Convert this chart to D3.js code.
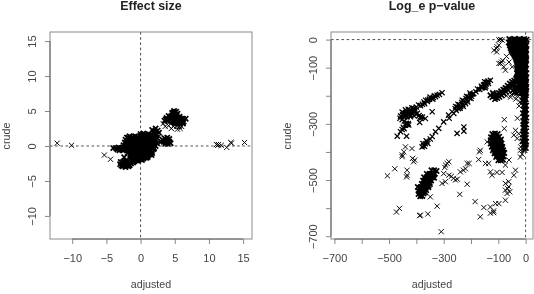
<!DOCTYPE html>
<html>
<head>
<meta charset="utf-8">
<script src="https://cdn.jsdelivr.net/npm/d3@7"></script>
<style>
html,body{margin:0;padding:0;background:#fff;}
svg{display:block;filter:blur(0.35px);}
text{font-family:"Liberation Sans",Arial,sans-serif;}
</style>
</head>
<body>
<svg id="chart" width="534" height="294"></svg>
<script>
// values, [adjusted, crude]
var effectLone = [[-12.2,0.4],[-10.1,0.1],[-5.3,-1.3],[-4.4,-1.9],[11.1,0.2],[11.3,0.1],[11.4,0.2],[11.8,0.1],[12.6,-0.2],[13.2,0.5],[13.3,0.4],[15.2,0.5]];
var effectBody = [
[1.7,2.3],[2.2,2.5],[2.5,2.2],[1.9,2.0],[2.7,1.9],[0,1.7],[0.4,1.8],[0.8,1.6],[1.2,1.7],[1.6,1.6],[2.0,1.7],[2.4,1.6],
[-2.0,1.2],[-1.6,1.4],[-1.2,1.3],[-0.8,1.4],[-0.4,1.3],[0,1.4],[0.4,1.3],[0.8,1.2],[1.2,1.3],[1.6,1.2],[2.0,1.3],[2.4,1.2],
[-2.2,0.9],[-1.8,1.0],[-1.4,0.9],[-1.0,1.0],[-0.6,0.9],[-0.2,1.0],[0.2,0.9],[0.6,1.0],[1.0,0.9],[1.4,0.9],[1.8,0.9],[2.2,0.8],
[-2.3,0.5],[-1.9,0.6],[-1.5,0.5],[-1.1,0.6],[-0.7,0.5],[-0.3,0.6],[0.1,0.5],[0.5,0.6],[0.9,0.5],[1.3,0.5],[1.7,0.5],[2.1,0.5],[2.4,0.4],
[-2.5,0.1],[-2.1,0.2],[-1.7,0.1],[-1.3,0.2],[-0.9,0.1],[-0.5,0.2],[-0.1,0.1],[0.3,0.2],[0.7,0.1],[1.1,0.1],[1.5,0.2],[1.9,0.1],[2.2,0],
[-4.0,-0.3],[-3.6,-0.3],[-3.2,-0.2],[-2.8,-0.3],[-2.4,-0.2],[-2.0,-0.3],[-1.6,-0.2],[-1.2,-0.3],[-0.8,-0.2],[-0.4,-0.3],[0,-0.2],[0.4,-0.3],[0.8,-0.2],[1.2,-0.3],[1.6,-0.2],[2.0,-0.3],
[-3.1,-0.6],[-2.6,-0.6],[-1.9,-0.6],[-1.5,-0.7],[-1.1,-0.6],[-0.7,-0.7],[-0.3,-0.6],[0.1,-0.7],[0.5,-0.6],[0.9,-0.7],[1.3,-0.6],[1.7,-0.7],
[-1.9,-1.0],[-1.5,-1.1],[-1.1,-1.0],[-0.7,-1.1],[-0.3,-1.0],[0.1,-1.1],[0.5,-1.0],[0.9,-1.1],[1.3,-1.0],[1.7,-1.0],
[-2.4,-1.6],[-1.3,-1.4],[-0.9,-1.5],[-0.5,-1.4],[-0.1,-1.5],[0.3,-1.4],[0.7,-1.5],[1.1,-1.4],[1.6,-1.3],
[-1.2,-1.8],[-0.8,-1.9],[-0.4,-1.8],[0,-1.9],[0.4,-1.8],[0.8,-1.7],
[-2.9,-2.3],[-2.5,-2.2],[-2.1,-2.1],[-1.7,-2.2],[-1.3,-2.1],[-0.9,-2.2],[-0.5,-2.1],
[-3.0,-2.6],[-2.6,-2.6],[-2.2,-2.5],[-1.8,-2.6],[-1.4,-2.5],
[-2.6,-2.9],[-2.2,-3.0],[-1.8,-2.9]
];
var effectBodyDense = [
[-1.8,1.2],[-1.4,1.15],[-1.0,1.15],[-0.6,1.15],[-0.2,1.15],[0.2,1.55],[0.6,1.55],[1.0,1.5],[1.4,1.45],[1.8,1.45],[2.2,1.45],[2.1,2.15],
[-1.6,0.75],[-1.2,0.8],[-0.8,0.75],[-0.4,0.8],[0,0.75],[0.4,0.8],[0.8,0.75],[1.2,0.7],[1.6,0.7],[2.0,0.7],
[-2.1,0.35],[-1.7,0.35],[-1.3,0.4],[-0.9,0.35],[-0.5,0.4],[-0.1,0.35],[0.3,0.4],[0.7,0.35],[1.1,0.3],[1.5,0.35],[1.9,0.3],
[-2.3,-0.1],[-1.9,-0.05],[-1.5,-0.05],[-1.1,-0.05],[-0.7,-0.05],[-0.3,-0.05],[0.1,-0.05],[0.5,-0.05],[0.9,-0.05],[1.3,-0.05],[1.7,-0.05],
[-3.4,-0.5],[-2.9,-0.45],[-2.3,-0.5],[-1.7,-0.45],[-1.3,-0.45],[-0.9,-0.45],[-0.5,-0.45],[-0.1,-0.45],[0.3,-0.45],[0.7,-0.45],[1.1,-0.45],[1.5,-0.45],[1.9,-0.45],
[-1.7,-0.85],[-1.3,-0.85],[-0.9,-0.85],[-0.5,-0.85],[-0.1,-0.85],[0.3,-0.85],[0.7,-0.85],[1.1,-0.85],[1.5,-0.85],
[-1.5,-1.25],[-1.1,-1.25],[-0.7,-1.25],[-0.3,-1.25],[0.1,-1.25],[0.5,-1.25],[0.9,-1.25],[1.3,-1.2],
[-1.0,-1.65],[-0.6,-1.65],[-0.2,-1.65],[0.2,-1.65],[0.6,-1.6],[1.0,-1.6],
[-1.5,-1.95],[-1.1,-2.0],[-0.7,-2.0],[-0.3,-2.0],[0.2,-2.0],
[-2.7,-2.4],[-2.3,-2.4],[-1.9,-2.4],[-1.5,-2.35],[-1.1,-2.35],
[-2.8,-2.8],[-2.4,-2.8],[-2.0,-2.8],[-1.6,-2.75]
];
var effectRightLobe = [[3.2,0.9],[3.5,1.1],[3.9,1.2],[4.2,1.0],[3.0,0.6],[3.4,0.6],[3.8,0.7],[4.2,0.6],[4.4,0.4],[3.6,0.3],[4.0,0.3],[3.7,0.9],[4.0,0.9],[3.3,0.8]];
var effectUpper = [
[4.9,5.0],[5.2,4.9],[4.6,4.7],[5.0,4.6],[5.4,4.6],[4.1,4.3],[4.5,4.3],[4.9,4.2],[5.3,4.3],[5.7,4.2],[3.8,4.0],[4.2,3.9],[4.6,4.0],[5.0,3.9],[5.4,3.9],[5.8,3.9],[6.2,3.9],[6.6,3.9],
[3.5,3.6],[3.9,3.6],[4.3,3.6],[4.7,3.5],[5.1,3.6],[5.5,3.5],[5.9,3.6],[6.3,3.5],[5.0,3.2],[5.4,3.2],[5.8,3.2],[6.2,3.2],
[4.8,4.8],[5.2,4.45],[4.7,4.45],[4.3,4.1],[4.8,4.05],[5.2,4.1],[5.6,4.05],[6.0,3.75],[5.6,3.75],[5.2,3.75],[4.8,3.75],[4.4,3.75],[4.0,3.8],[3.7,3.8],[5.3,3.4],[5.7,3.4],[4.9,3.4],[6.1,3.35]
];
var effectUpperEdge = [[3.3,3.2],[4.4,3.2],[3.6,2.8],[4.1,2.9],[4.8,2.8],[5.3,2.8],[5.7,2.8],[6.0,2.8],[4.5,2.5],[5.4,2.4],[5.8,2.5]];

var pvalTopBranch = [
[-306,-189],[-316,-195],[-324,-198],[-330,-203],[-338,-206],[-345,-209],[-352,-212],[-358,-215],[-366,-216],[-372,-222],[-378,-230],[-385,-235],[-392,-233],[-400,-240],[-410,-245],[-416,-243],[-424,-250],[-430,-248],[-436,-255],[-440,-250],[-445,-262],[-452,-258],[-458,-272],[-450,-268],[-442,-272],[-434,-266],[-426,-262],[-420,-270],[-414,-262],[-408,-272],[-402,-265],[-396,-262],[-460,-280],[-452,-285],[-444,-290],[-390,-270],[-384,-280],[-378,-276],[-342,-257],[-367,-281],[-388,-295],[-385,-275],
[-470,-344],[-436,-344],[-458,-328],[-445,-317],[-436,-301],[-430,-299],[-440,-305],[-448,-312],[-452,-320],
[-438,-262],[-446,-270],[-430,-256],[-422,-256],[-418,-256],[-412,-254],[-405,-252],[-340,-212],[-334,-200],[-350,-205],[-360,-220],[-370,-228],[-434,-302],[-428,-304],[-438,-298],[-422,-275],[-434,-275],[-406,-258]
];
var pvalDiagonal = [
[-379,-382],[-373,-378],[-367,-371],[-361,-364],[-349,-354],[-342,-345],[-330,-328],[-318,-316],[-300,-293],[-282,-269],[-269,-257],
[-263,-263],[-258,-246],[-254,-252],[-250,-240],[-246,-246],[-242,-232],[-238,-238],[-234,-224],[-230,-230],[-226,-218],[-222,-222],[-218,-210],[-214,-214],[-210,-204],[-206,-208],[-202,-198],[-198,-202],[-194,-194],[-190,-192],[-182,-186],[-176,-176],[-168,-178],[-162,-166],[-156,-170],[-150,-160],[-146,-166],[-142,-152],[-136,-156],[-129,-145],[-150,-150],
[-251,-334],[-226,-311],[-226,-326],[-280,-280],
[-256,-238],[-248,-230],[-240,-244],[-232,-216],[-228,-238],[-220,-228],[-216,-202],[-212,-222],[-204,-190],[-200,-210],[-376,-370],[-370,-380],[-364,-360],[-358,-370],[-144,-158],[-138,-148],[-160,-172],[-154,-162],[-148,-172]
];
var pvalBend = [
[-129,-198],[-120,-190],[-122,-205],[-114,-200],[-112,-212],[-106,-196],[-104,-208],[-98,-190],[-96,-204],[-90,-184],[-88,-198],[-82,-178],[-80,-192],[-74,-172],[-72,-186],[-66,-164],[-64,-180],[-58,-156],[-56,-172],[-50,-150],[-48,-166],[-42,-146],[-40,-160],[-34,-176],[-26,-184],
[-117,-196],[-109,-204],[-101,-198],[-93,-192],[-85,-188],[-77,-180],[-69,-174],[-61,-168],[-53,-160],[-45,-156],[-37,-150],[-43,-172],[-35,-166],[-29,-176],[-47,-182],[-40,-188],[-32,-190]
];
var pvalBendEdge = [[-70,-200],[-52,-196],[-36,-212],[-30,-200],[-20,-222],[-24,-236],[-55,-205]];
var pvalColumn = [
[-60,2],[-50,0],[-41,2],[-32,0],[-23,2],[-14,0],[-5,2],[4,0],
[-62,-10],[-54,-9],[-45,-10],[-36,-9],[-27,-10],[-18,-9],[-9,-10],[0,-9],
[-58,-20],[-49,-19],[-40,-20],[-31,-19],[-22,-20],[-13,-19],[-4,-20],[3,-19],
[-55,-30],[-46,-29],[-37,-30],[-28,-29],[-19,-30],[-10,-29],[-1,-30],
[-52,-40],[-43,-39],[-34,-40],[-25,-39],[-16,-40],[-7,-39],[2,-40],
[-44,-50],[-35,-49],[-26,-50],[-17,-49],[-8,-50],[1,-49],
[-38,-60],[-29,-59],[-20,-60],[-11,-59],[-2,-60],
[-34,-70],[-25,-69],[-16,-70],[-7,-69],[2,-70],
[-30,-80],[-21,-79],[-12,-80],[-3,-79],
[-33,-90],[-24,-89],[-15,-90],[-6,-89],[2,-90],
[-30,-100],[-21,-99],[-12,-100],[-3,-99],
[-28,-110],[-19,-109],[-10,-110],[-1,-109],
[-32,-120],[-23,-119],[-14,-120],[-5,-119],[3,-120],
[-30,-130],[-21,-129],[-12,-130],[-3,-129],
[-35,-140],[-26,-139],[-17,-140],[-8,-139],[1,-139],
[-30,-150],[-21,-149],[-12,-150],[-3,-149],
[-26,-160],[-17,-159],[-8,-160],[1,-159],
[-22,-170],[-13,-169],[-4,-170],[3,-169],
[-18,-180],[-9,-179],[0,-180],
[-14,-190],[-5,-189],[2,-190],
[-10,-205],[-2,-204],[-12,-218],[-3,-220],[-8,-235],[2,-235],
[-6,-250],[2,-250],[-10,-262],[-1,-264],[-5,-278],[3,-278],
[-9,-290],[-1,-291],[-6,-302],[2,-302],[-9,-314],[-1,-315],[-6,-326],[2,-326],
[-10,-338],[-2,-339],[-7,-350],[1,-350],[-12,-362],[-3,-362],[2,-364],[-8,-374],[0,-374],[-6,-386],[1,-386]
];
var pvalColumnDense = [
[-56,-4],[-47,-4],[-38,-5],[-29,-4],[-20,-5],[-11,-4],[-2,-5],
[-58,-14],[-49,-15],[-40,-14],[-31,-15],[-22,-14],[-13,-15],[-4,-14],
[-54,-25],[-45,-24],[-36,-25],[-27,-24],[-18,-25],[-9,-24],[0,-25],
[-51,-35],[-42,-34],[-33,-35],[-24,-34],[-15,-35],[-6,-34],[2,-35],
[-48,-45],[-39,-44],[-30,-45],[-21,-44],[-12,-45],[-3,-44],
[-41,-55],[-32,-54],[-23,-55],[-14,-54],[-5,-55],[2,-54],
[-36,-65],[-27,-64],[-18,-65],[-9,-64],[0,-65],
[-32,-75],[-23,-74],[-14,-75],[-5,-74],[2,-75],
[-28,-85],[-19,-84],[-10,-85],[-1,-84],
[-29,-95],[-20,-94],[-11,-95],[-2,-94],
[-26,-105],[-17,-104],[-8,-105],[1,-104],
[-30,-115],[-21,-114],[-12,-115],[-3,-114],
[-28,-125],[-19,-124],[-10,-125],[-1,-124],
[-33,-135],[-24,-134],[-15,-135],[-6,-134],[2,-135],
[-28,-145],[-19,-144],[-10,-145],[-1,-144],
[-24,-155],[-15,-154],[-6,-155],[2,-154],
[-20,-165],[-11,-164],[-2,-165],
[-16,-175],[-7,-174],[1,-175],
[-11,-185],[-3,-184],[-8,-197],[0,-197],[-6,-212],[1,-212],[-3,-228],[-2,-243],[-2,-257],[-3,-271],[-3,-284],[-4,-296],[-4,-308],[-4,-320],[-4,-332],[-4,-344],[-4,-356],[-4,-368]
];
var pvalMidBlob = [
[-122,-336],[-112,-334],[-102,-336],[-127,-348],[-117,-346],[-107,-348],[-97,-346],[-128,-358],[-118,-358],[-108,-358],[-98,-358],[-90,-356],
[-128,-370],[-118,-370],[-108,-370],[-98,-370],[-88,-370],[-124,-382],[-114,-382],[-104,-382],[-94,-382],[-85,-382],
[-120,-394],[-110,-394],[-100,-394],[-90,-394],[-82,-394],[-114,-406],[-104,-406],[-94,-406],[-84,-406],[-78,-404],
[-108,-418],[-98,-418],[-88,-418],[-80,-416],[-100,-430],[-91,-430],[-83,-428],
[-117,-340],[-107,-341],[-122,-352],[-112,-352],[-102,-352],[-123,-364],[-113,-364],[-103,-364],[-93,-364],[-121,-376],[-111,-376],[-101,-376],[-91,-376],[-117,-388],[-107,-388],[-97,-388],[-87,-388],[-113,-400],[-103,-400],[-93,-400],[-83,-400],[-105,-412],[-95,-412],[-85,-412],[-95,-424],[-86,-424]
];
var pvalLowBlob = [
[-345,-465],[-335,-465],[-326,-468],[-362,-478],[-352,-478],[-342,-478],[-332,-478],[-372,-490],[-362,-490],[-352,-490],[-342,-490],[-335,-492],
[-376,-502],[-366,-502],[-356,-502],[-346,-502],[-380,-514],[-370,-514],[-360,-514],[-350,-514],[-385,-526],[-375,-526],[-365,-526],[-356,-526],
[-392,-538],[-382,-538],[-372,-538],[-364,-536],[-392,-550],[-383,-550],[-374,-548],[-386,-558],[-378,-557],[-395,-525],
[-357,-484],[-347,-484],[-337,-484],[-367,-496],[-357,-496],[-347,-496],[-371,-508],[-361,-508],[-351,-508],[-375,-520],[-365,-520],[-355,-520],[-386,-532],[-376,-532],[-366,-532],[-388,-544],[-378,-544],[-368,-544]
];
var pvalLone = [
[-506,-485],[-479,-460],[-473,-614],[-462,-601],[-452,-411],[-446,-400],[-440,-382],[-452,-417],[-416,-388],[-410,-435],[-406,-429],[-434,-465],[-436,-489],[-434,-483],[-414,-423],[-349,-560],
[-385,-625],[-388,-627],[-358,-621],[-324,-593],[-309,-684],[-300,-477],[-306,-512],[-294,-506],
[-281,-435],[-293,-447],[-287,-441],[-296,-455],[-281,-483],[-272,-487],[-264,-494],[-257,-500],[-250,-497],[-239,-471],[-228,-465],[-220,-460],[-214,-441],[-207,-441],[-214,-515],[-241,-551],
[-169,-400],[-166,-394],[-172,-427],[-147,-441],[-135,-441],[-141,-364],[-129,-471],[-123,-483],[-105,-473],[-86,-473],[-74,-447],[-61,-429],[-37,-465],[-43,-483],
[-185,-577],[-166,-631],[-153,-598],[-129,-618],[-117,-610],[-129,-596],[-110,-584],[-98,-584],[-117,-616],[-74,-572],[-68,-548],[-74,-536],[-62,-524],[-62,-506],[-74,-512],[-58,-542],[-66,-530],
[-78,-285],[-78,-317],[-37,-323],[-43,-340],[-31,-352],[-25,-335],[-19,-394],[-7,-394],[-19,-418],[-13,-408],[-18,-382],[-3,-394],
[-92,0],[-86,-2],[-98,-1],[-107,-32],[-98,-20],[-116,-38],[-104,-26],[-106,-44],[-98,-85],[-84,-74],[-80,-97],[-92,-85],[-74,-109],[-88,-80],[-61,-80],[-49,-97],[-70,-60],[-30,-280]
];

var effectXTicks = [-10,-5,0,5,10,15];
var effectYTicks = [-10,-5,0,5,10,15];
var pvalTicks = [-700,-600,-500,-400,-300,-200,-100,0];
var pvalLabels = [-700,-500,-300,-100,0];

// overplotted clusters go black in the picture, so they get a heavier stroke
var effectSparse = effectLone.concat(effectUpperEdge);
var effectDense = effectBody.concat(effectBodyDense, effectRightLobe, effectUpper);
var pvalSparse = pvalLone.concat(pvalBendEdge);
var pvalMedium = pvalTopBranch.concat(pvalDiagonal);
var pvalDense = pvalBend.concat(pvalColumn, pvalColumnDense, pvalMidBlob, pvalLowBlob);

var svg = d3.select('#chart');
var top_ = 32, bottom = 239;
var fmt = function(d){ return String(d).replace('-','\u2212'); };

var drawPanel = function(opt){
    var x = d3.scaleLinear().domain(opt.xDomain).range([opt.left, opt.right]);
    var y = d3.scaleLinear().domain(opt.yDomain).range([bottom, top_]);
    var g = svg.append('g');

    // dashed zero lines under the points
    g.append('line').attr('x1',opt.left).attr('x2',opt.right).attr('y1',y(0)).attr('y2',y(0)).attr('stroke','#222').attr('stroke-dasharray','2.6 2.6').attr('stroke-width',0.8);
    g.append('line').attr('x1',x(0)).attr('x2',x(0)).attr('y1',top_).attr('y2',bottom).attr('stroke','#222').attr('stroke-dasharray','2.6 2.6').attr('stroke-width',0.8);

    var s = 2.6;
    opt.groups.forEach(function(grp){
        g.append('path').attr('fill','none').attr('stroke','#000').attr('stroke-width',grp.width)
            .attr('d',grp.points.map(function(p){
                var px = x(p[0]), py = y(p[1]);
                return 'M'+(px-s)+' '+(py-s)+'L'+(px+s)+' '+(py+s)+'M'+(px-s)+' '+(py+s)+'L'+(px+s)+' '+(py-s);
            }).join(''));
    });

    g.append('rect').attr('x',opt.left).attr('y',top_).attr('width',opt.right-opt.left).attr('height',bottom-top_).attr('fill','none').attr('stroke','#8a8a8a').attr('stroke-width',1);

    // R style axes: the line only runs between the end ticks
    var xAxis = d3.axisBottom(x).tickValues(opt.xTicks).tickSize(5).tickSizeOuter(0).tickFormat(function(d){ return opt.xLabels.indexOf(d)>=0 ? fmt(d) : ''; });
    var xg = g.append('g').attr('transform','translate(0,'+bottom+')').call(xAxis);
    xg.select('.domain').remove();
    xg.append('line').attr('x1',x(opt.xTicks[0])).attr('x2',x(opt.xTicks[opt.xTicks.length-1])).attr('stroke','#666');
    xg.selectAll('.tick line').attr('stroke','#888');
    xg.selectAll('text').attr('y',15.5).attr('dy','0.71em').attr('fill','#444').attr('font-size',11).attr('font-family','Liberation Sans');

    var yAxis = d3.axisLeft(y).tickValues(opt.yTicks).tickSize(5).tickSizeOuter(0).tickFormat(function(d){ return opt.yLabels.indexOf(d)>=0 ? fmt(d) : ''; });
    var yg = g.append('g').attr('transform','translate('+opt.left+',0)').call(yAxis);
    yg.select('.domain').remove();
    yg.append('line').attr('y1',y(opt.yTicks[0])).attr('y2',y(opt.yTicks[opt.yTicks.length-1])).attr('stroke','#666');
    yg.selectAll('.tick line').attr('stroke','#888');
    yg.selectAll('text').attr('x',0).attr('dy',0).attr('text-anchor','middle').attr('fill','#444').attr('font-size',11).attr('font-family','Liberation Sans')
        .attr('transform','translate(-14,0) rotate(-90)');

    var mid = (opt.left+opt.right)/2;
    g.append('text').text(opt.title).attr('x',mid).attr('y',10).attr('text-anchor','middle').attr('font-weight','bold').attr('font-size',12.4).attr('fill','#222');
    g.append('text').text('adjusted').attr('x',mid).attr('y',288).attr('text-anchor','middle').attr('font-size',10.7).attr('fill','#444');
    g.append('text').text('crude').attr('transform','translate('+(opt.left-40)+',136) rotate(-90)').attr('text-anchor','middle').attr('font-size',10.7).attr('fill','#444');
}

drawPanel({title:'Effect size', left:50, right:252, xDomain:[-13.25,16.3], yDomain:[-13.3,16.3], groups:[{points:effectSparse,width:0.95},{points:effectDense,width:1.7}], xTicks:effectXTicks, yTicks:effectYTicks, xLabels:effectXTicks, yLabels:effectYTicks});
drawPanel({title:'Log_e p\u2212value', left:331, right:533, xDomain:[-712.5,27], yDomain:[-710,27], groups:[{points:pvalSparse,width:0.95},{points:pvalMedium,width:1.25},{points:pvalDense,width:1.7}], xTicks:pvalTicks, yTicks:pvalTicks, xLabels:pvalLabels, yLabels:pvalLabels});
</script>
</body>
</html>
